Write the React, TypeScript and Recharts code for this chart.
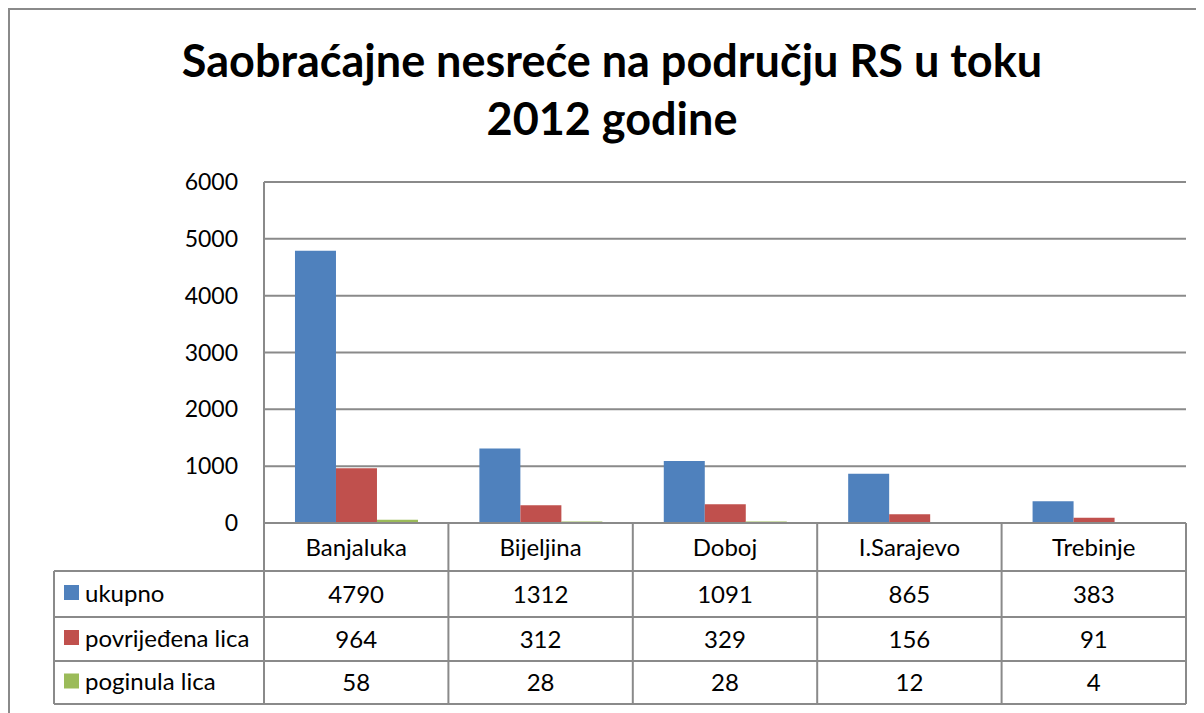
import React from 'react';
import { BarChart, Bar, XAxis, YAxis, CartesianGrid } from 'recharts';

const categories = ['Banjaluka', 'Bijeljina', 'Doboj', 'I.Sarajevo', 'Trebinje'];
const ukupno = [4790, 1312, 1091, 865, 383];
const povrijedena = [964, 312, 329, 156, 91];
const poginula = [58, 28, 28, 12, 4];
const yTicks = [0, 1000, 2000, 3000, 4000, 5000, 6000];
const seriesNames = ['ukupno', 'povrijeđena lica', 'poginula lica'];
const seriesKeys = ['ukupno', 'povrijedena', 'poginula'];
const seriesValues = [ukupno, povrijedena, poginula];
const titleLines = ['Saobraćajne nesreće na području RS u toku', '2012 godine'];

const COLORS = ['#4F81BD', '#C0504D', '#9BBB59'];
const LINE = '#8a8a8a';
const FONT = 'Lato, "Open Sans", sans-serif';

const data = categories.map((c, i) => ({
  name: c,
  ukupno: ukupno[i],
  povrijedena: povrijedena[i],
  poginula: poginula[i],
}));

// layout (chart coordinates; chart origin sits at page 8,8)
const CHART_W = 1196;
const CHART_H = 705;
const PLOT_LEFT = 256;
const PLOT_RIGHT = 1178;
const PLOT_TOP = 174;
const PLOT_BOTTOM = 515;
const X_AXIS_H = 48;
const HEADER_BOTTOM = 563;
const ROW_BOTTOMS = [609, 653, 696];
const ROW_TOPS = [HEADER_BOTTOM, 609, 653];
const TABLE_LEFT = 46;
const BAND = (PLOT_RIGHT - PLOT_LEFT) / categories.length;
const FS = 24;
const FS_Y = 23;

const XTick = (props: any) => {
  const { x, payload } = props;
  const index = payload.index;
  const half = BAND / 2;
  const bottom = ROW_BOTTOMS[ROW_BOTTOMS.length - 1];
  return (
    <g>
      {index === 0 && (
        <g>
          <line x1={x - half} y1={PLOT_BOTTOM} x2={x - half} y2={bottom} stroke={LINE} strokeWidth={2} />
          <line x1={TABLE_LEFT} y1={HEADER_BOTTOM} x2={TABLE_LEFT} y2={bottom} stroke={LINE} strokeWidth={2} />
          {[HEADER_BOTTOM, ...ROW_BOTTOMS].map((yy, k) => (
            <line key={k} x1={TABLE_LEFT} y1={yy} x2={PLOT_RIGHT} y2={yy} stroke={LINE} strokeWidth={2} />
          ))}
          {seriesNames.map((n, r) => {
            const cy = (ROW_TOPS[r] + ROW_BOTTOMS[r]) / 2;
            return (
              <g key={n}>
                <rect x={56} y={cy - 9} width={15} height={15} fill={COLORS[r]} />
                <text x={77} y={cy} dy="0.32em" fontSize={FS} fontFamily={FONT} fill="#000">
                  {n}
                </text>
              </g>
            );
          })}
        </g>
      )}
      <line x1={x + half} y1={PLOT_BOTTOM} x2={x + half} y2={bottom} stroke={LINE} strokeWidth={2} />
      <text x={x} y={(PLOT_BOTTOM + HEADER_BOTTOM) / 2} dy="0.36em" textAnchor="middle" fontSize={FS} fontFamily={FONT} fill="#000">
        {payload.value}
      </text>
      {seriesValues.map((vals, r) => (
        <text
          key={r}
          x={x}
          y={(ROW_TOPS[r] + ROW_BOTTOMS[r]) / 2}
          dy="0.36em"
          textAnchor="middle"
          fontSize={FS}
          fontFamily={FONT}
          fill="#000"
        >
          {vals[index]}
        </text>
      ))}
    </g>
  );
};

export default function App() {
  return (
    <div style={{ position: 'relative', width: CHART_W, height: CHART_H, background: '#fff' }}>
      <BarChart
        width={CHART_W}
        height={CHART_H}
        data={data}
        margin={{ top: PLOT_TOP, right: CHART_W - PLOT_RIGHT, left: 0, bottom: CHART_H - PLOT_BOTTOM - X_AXIS_H }}
        barCategoryGap="16.8%"
        barGap={0}
      >
        <CartesianGrid vertical={false} stroke={LINE} strokeWidth={2} />
        <XAxis
          dataKey="name"
          height={X_AXIS_H}
          axisLine={{ stroke: LINE, strokeWidth: 2 }}
          tickLine={false}
          interval={0}
          tick={<XTick />}
        />
        <YAxis
          width={PLOT_LEFT}
          domain={[0, 6000]}
          ticks={yTicks}
          interval={0}
          axisLine={{ stroke: LINE, strokeWidth: 2 }}
          tickLine={false}
          tickSize={6}
          tickMargin={20}
          tick={{ fill: '#000', fontSize: FS_Y, fontFamily: FONT }}
        />
        {seriesKeys.map((k, i) => (
          <Bar key={k} dataKey={k} name={seriesNames[i]} fill={COLORS[i]} isAnimationActive={false} />
        ))}
      </BarChart>
      <svg
        width={CHART_W}
        height={160}
        style={{ position: 'absolute', left: 0, top: 0, pointerEvents: 'none' }}
      >
        {titleLines.map((t, i) => (
          <text
            key={i}
            x={604}
            y={69 + i * 58}
            textAnchor="middle"
            fontSize={45}
            fontWeight="bold"
            fontFamily={FONT}
            fill="#000"
          >
            {t}
          </text>
        ))}
      </svg>
      <div
        style={{
          position: 'absolute',
          left: 0,
          top: 0,
          width: CHART_W,
          height: CHART_H,
          borderLeft: `2px solid ${LINE}`,
          borderTop: `2px solid ${LINE}`,
          boxSizing: 'border-box',
          pointerEvents: 'none',
        }}
      />
    </div>
  );
}
